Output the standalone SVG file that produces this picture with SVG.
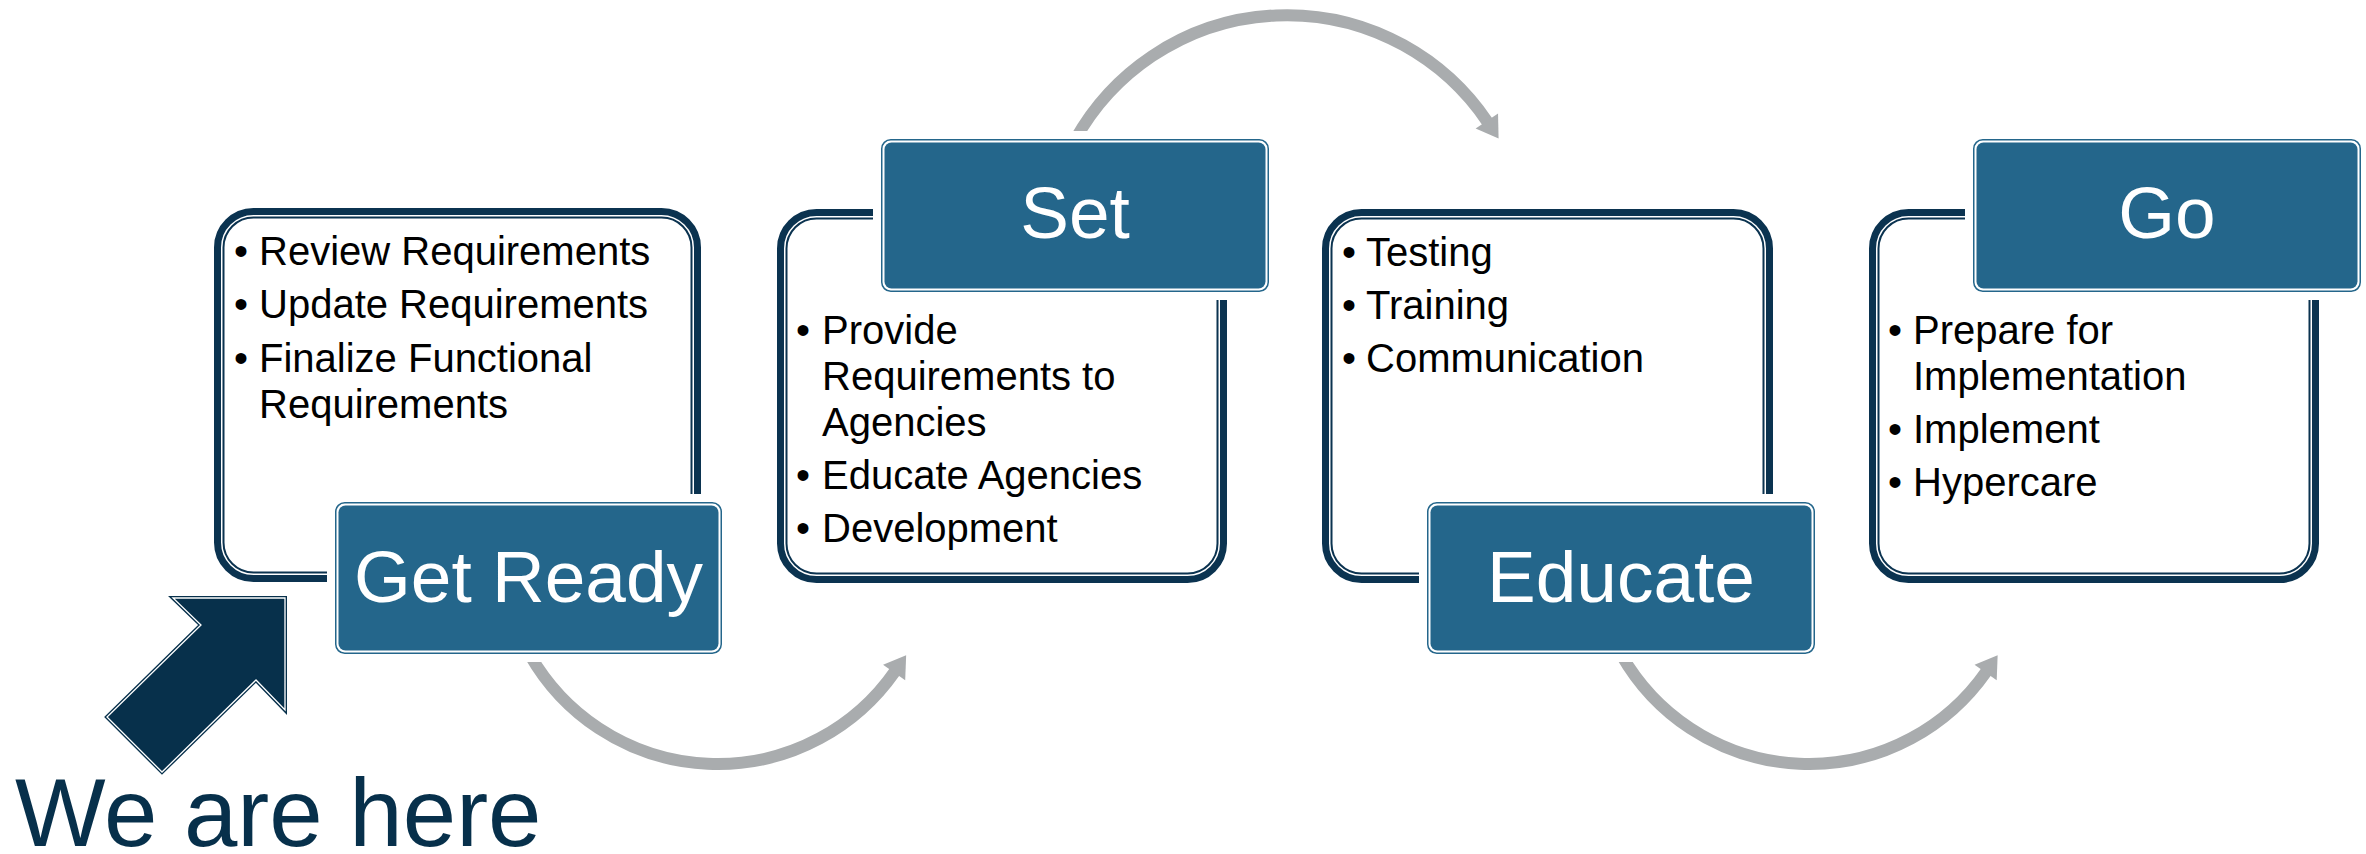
<svg xmlns="http://www.w3.org/2000/svg" width="2366" height="854" viewBox="0 0 2366 854">
<defs>
<style>
.thick{fill:#fff;stroke:#0B3350;stroke-width:7}
.thin{fill:none;stroke:#0B3350;stroke-width:2}
.halo{fill:#fff}
.lbo{fill:none;stroke:#24668B;stroke-width:1.5}
.lbi{fill:#24668B}
.lt{font-family:"Liberation Sans",Arial,sans-serif;font-size:73px;fill:#fff;text-anchor:middle}
.bt{font-family:"Liberation Sans",Arial,sans-serif;font-size:40px;fill:#000}
.bl{font-family:"Liberation Sans",Arial,sans-serif;font-size:40px;fill:#000;text-anchor:middle}
.arc{fill:none;stroke:#A9ACAE;stroke-width:12;marker-end:url(#ah)}
</style>
<marker id="ah" markerUnits="userSpaceOnUse" markerWidth="24" markerHeight="30" viewBox="0 0 24 30" refX="1" refY="15" orient="auto" overflow="visible">
<path d="M0,1.5 L21,15 L0,28.5 z" fill="#A9ACAE"/>
</marker>
</defs>
<rect width="2366" height="854" fill="#fff"/>

<g id="connectors">
<path class="arc" d="M 1075 140 A 242 242 0 0 1 1487.4 121.9"/>
<path class="arc" d="M 530 655 A 216 216 0 0 0 894.7 671.7"/>
<path class="arc" d="M 1621.5 655 A 216 216 0 0 0 1986.2 671.7"/>
</g>

<g id="node-get-ready">
<rect class="thick" x="217.5" y="211.5" width="480" height="367" rx="36"/>
<rect class="thin" x="223.5" y="217.5" width="468" height="355" rx="30"/>
<text class="bl"><tspan x="241" y="265">•</tspan><tspan x="241" y="318">•</tspan><tspan x="241" y="372">•</tspan></text>
<text class="bt"><tspan x="259" y="265">Review Requirements</tspan><tspan x="259" y="318">Update Requirements</tspan><tspan x="259" y="372">Finalize Functional</tspan><tspan x="259" y="418">Requirements</tspan></text>
<rect class="halo" x="327" y="494" width="403" height="168" rx="14"/>
<rect class="lbo" x="335.75" y="502.75" width="385.5" height="150.5" rx="9"/>
<rect class="lbi" x="338.5" y="505.5" width="380" height="145" rx="7"/>
<text class="lt" x="528.5" y="602">Get Ready</text>
</g>

<g id="node-set">
<rect class="thick" x="780.5" y="212.5" width="443" height="367" rx="36"/>
<rect class="thin" x="786.5" y="218.5" width="431" height="355" rx="30"/>
<text class="bl"><tspan x="803" y="344">•</tspan><tspan x="803" y="489">•</tspan><tspan x="803" y="542">•</tspan></text>
<text class="bt"><tspan x="822" y="344">Provide</tspan><tspan x="822" y="390">Requirements to</tspan><tspan x="822" y="436">Agencies</tspan><tspan x="822" y="489">Educate Agencies</tspan><tspan x="822" y="542">Development</tspan></text>
<rect class="halo" x="873" y="131" width="404" height="169" rx="14"/>
<rect class="lbo" x="881.75" y="139.75" width="386.5" height="151.5" rx="9"/>
<rect class="lbi" x="884.5" y="142.5" width="381" height="146" rx="7"/>
<text class="lt" x="1075" y="238">Set</text>
</g>

<g id="node-educate">
<rect class="thick" x="1325.5" y="212.5" width="444" height="367" rx="36"/>
<rect class="thin" x="1331.5" y="218.5" width="432" height="355" rx="30"/>
<text class="bl"><tspan x="1349" y="266">•</tspan><tspan x="1349" y="319">•</tspan><tspan x="1349" y="372">•</tspan></text>
<text class="bt"><tspan x="1366" y="266">Testing</tspan><tspan x="1366" y="319">Training</tspan><tspan x="1366" y="372">Communication</tspan></text>
<rect class="halo" x="1419" y="494" width="404" height="168" rx="14"/>
<rect class="lbo" x="1427.75" y="502.75" width="386.5" height="150.5" rx="9"/>
<rect class="lbi" x="1430.5" y="505.5" width="381" height="145" rx="7"/>
<text class="lt" x="1621" y="602">Educate</text>
</g>

<g id="node-go">
<rect class="thick" x="1872.5" y="212.5" width="443" height="367" rx="36"/>
<rect class="thin" x="1878.5" y="218.5" width="431" height="355" rx="30"/>
<text class="bl"><tspan x="1895" y="344">•</tspan><tspan x="1895" y="443">•</tspan><tspan x="1895" y="496">•</tspan></text>
<text class="bt"><tspan x="1913" y="344">Prepare for</tspan><tspan x="1913" y="390">Implementation</tspan><tspan x="1913" y="443">Implement</tspan><tspan x="1913" y="496">Hypercare</tspan></text>
<rect class="halo" x="1965" y="131" width="404" height="169" rx="14"/>
<rect class="lbo" x="1973.75" y="139.75" width="386.5" height="151.5" rx="9"/>
<rect class="lbi" x="1976.5" y="142.5" width="381" height="146" rx="7"/>
<text class="lt" x="2167" y="238">Go</text>
</g>

<g id="we-are-here">
<polygon points="173,598 285,598 285,710 256,680 162,772 107,717 201,625" fill="#07304B" stroke="#07304B" stroke-width="4" stroke-linejoin="miter"/>
<polygon points="173,598 285,598 285,710 256,680 162,772 107,717 201,625" fill="none" stroke="#fff" stroke-width="1.3"/>
<text x="15" y="846" font-family="'Liberation Sans',Arial,sans-serif" font-size="96" fill="#07304B">We are here</text>
</g>
</svg>
